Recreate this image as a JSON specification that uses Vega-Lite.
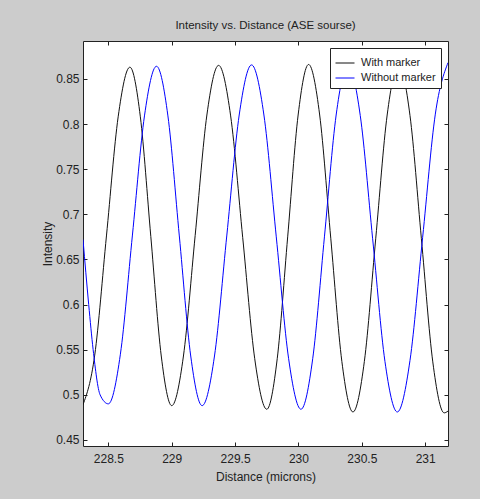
{
  "$schema": "https://vega.github.io/schema/vega-lite/v6.json",
  "autosize": {"type": "none"},
  "width": 365,
  "height": 405,
  "padding": {"left": 83, "top": 41, "right": 32, "bottom": 53},
  "background": "#cccccc",
  "title": {"text": "Intensity vs. Distance (ASE sourse)", "fontSize": 11.5, "fontWeight": "normal", "font": "Liberation Sans", "color": "#222222", "offset": 9},
  "config": {
    "view": {"fill": "white", "stroke": "#222222", "strokeWidth": 1},
    "axis": {"grid": false, "domain": false, "tickColor": "#222222", "tickSize": -4, "labelFont": "Liberation Sans", "labelFontSize": 12, "labelColor": "#222222", "titleFont": "Liberation Sans", "titleFontSize": 12, "titleFontWeight": "normal", "titleColor": "#222222"},
    "legend": {"orient": "top-right", "offset": 7, "fillColor": "white", "strokeColor": "#222222", "padding": 5, "symbolType": "stroke", "symbolSize": 361, "symbolStrokeWidth": 1, "labelFontSize": 11, "labelFont": "Liberation Sans", "labelColor": "#222222", "rowPadding": 0, "labelOffset": 6}
  },
  "data": {"values": [
    {"x": 228.30, "y": 0.489, "s": "With marker"},
    {"x": 228.3925, "y": 0.544, "s": "With marker"},
    {"x": 228.485, "y": 0.676, "s": "With marker"},
    {"x": 228.5775, "y": 0.808, "s": "With marker"},
    {"x": 228.67, "y": 0.863, "s": "With marker"},
    {"x": 228.7525, "y": 0.808, "s": "With marker"},
    {"x": 228.835, "y": 0.6755, "s": "With marker"},
    {"x": 228.9175, "y": 0.543, "s": "With marker"},
    {"x": 229.00, "y": 0.488, "s": "With marker"},
    {"x": 229.0925, "y": 0.543, "s": "With marker"},
    {"x": 229.185, "y": 0.6765, "s": "With marker"},
    {"x": 229.2775, "y": 0.810, "s": "With marker"},
    {"x": 229.37, "y": 0.865, "s": "With marker"},
    {"x": 229.465, "y": 0.809, "s": "With marker"},
    {"x": 229.56, "y": 0.6745, "s": "With marker"},
    {"x": 229.655, "y": 0.540, "s": "With marker"},
    {"x": 229.75, "y": 0.484, "s": "With marker"},
    {"x": 229.8325, "y": 0.540, "s": "With marker"},
    {"x": 229.915, "y": 0.675, "s": "With marker"},
    {"x": 229.9975, "y": 0.810, "s": "With marker"},
    {"x": 230.08, "y": 0.866, "s": "With marker"},
    {"x": 230.1675, "y": 0.810, "s": "With marker"},
    {"x": 230.255, "y": 0.6735, "s": "With marker"},
    {"x": 230.3425, "y": 0.537, "s": "With marker"},
    {"x": 230.43, "y": 0.481, "s": "With marker"},
    {"x": 230.52, "y": 0.537, "s": "With marker"},
    {"x": 230.61, "y": 0.6735, "s": "With marker"},
    {"x": 230.70, "y": 0.810, "s": "With marker"},
    {"x": 230.79, "y": 0.866, "s": "With marker"},
    {"x": 230.88, "y": 0.8095, "s": "With marker"},
    {"x": 230.97, "y": 0.673, "s": "With marker"},
    {"x": 231.06, "y": 0.5365, "s": "With marker"},
    {"x": 231.15, "y": 0.480, "s": "With marker"},
    {"x": 231.18, "y": 0.482, "s": "With marker"},
    {"x": 228.30, "y": 0.672, "s": "Without marker"},
    {"x": 228.345, "y": 0.600, "s": "Without marker"},
    {"x": 228.38, "y": 0.550, "s": "Without marker"},
    {"x": 228.435, "y": 0.500, "s": "Without marker"},
    {"x": 228.50, "y": 0.490, "s": "Without marker"},
    {"x": 228.595, "y": 0.545, "s": "Without marker"},
    {"x": 228.69, "y": 0.677, "s": "Without marker"},
    {"x": 228.785, "y": 0.809, "s": "Without marker"},
    {"x": 228.88, "y": 0.864, "s": "Without marker"},
    {"x": 228.97, "y": 0.809, "s": "Without marker"},
    {"x": 229.06, "y": 0.676, "s": "Without marker"},
    {"x": 229.15, "y": 0.543, "s": "Without marker"},
    {"x": 229.24, "y": 0.488, "s": "Without marker"},
    {"x": 229.3375, "y": 0.543, "s": "Without marker"},
    {"x": 229.435, "y": 0.677, "s": "Without marker"},
    {"x": 229.5325, "y": 0.810, "s": "Without marker"},
    {"x": 229.63, "y": 0.8655, "s": "Without marker"},
    {"x": 229.7275, "y": 0.810, "s": "Without marker"},
    {"x": 229.825, "y": 0.675, "s": "Without marker"},
    {"x": 229.9225, "y": 0.540, "s": "Without marker"},
    {"x": 230.02, "y": 0.484, "s": "Without marker"},
    {"x": 230.1125, "y": 0.540, "s": "Without marker"},
    {"x": 230.205, "y": 0.675, "s": "Without marker"},
    {"x": 230.2975, "y": 0.810, "s": "Without marker"},
    {"x": 230.39, "y": 0.866, "s": "Without marker"},
    {"x": 230.4875, "y": 0.8096, "s": "Without marker"},
    {"x": 230.585, "y": 0.6735, "s": "Without marker"},
    {"x": 230.6825, "y": 0.537, "s": "Without marker"},
    {"x": 230.78, "y": 0.481, "s": "Without marker"},
    {"x": 230.88, "y": 0.538, "s": "Without marker"},
    {"x": 230.98, "y": 0.6745, "s": "Without marker"},
    {"x": 231.08, "y": 0.811, "s": "Without marker"},
    {"x": 231.18, "y": 0.868, "s": "Without marker"}
  ]},
  "layer": [
    {
      "mark": {"type": "line", "interpolate": "monotone", "strokeWidth": 1, "clip": true},
      "encoding": {
        "x": {"field": "x", "type": "quantitative", "scale": {"domain": [228.3, 231.18], "nice": false, "zero": false},
              "axis": {"orient": "bottom", "values": [228.5, 229, 229.5, 230, 230.5, 231], "format": ".1~f", "labelPadding": 11, "title": "Distance (microns)", "titlePadding": 7}},
        "y": {"field": "y", "type": "quantitative", "scale": {"domain": [0.4433, 0.892], "nice": false, "zero": false},
              "axis": {"orient": "left", "values": [0.45, 0.5, 0.55, 0.6, 0.65, 0.7, 0.75, 0.8, 0.85], "format": ".2~f", "labelPadding": 8, "title": "Intensity", "titlePadding": 1}},
        "color": {"field": "s", "type": "nominal", "scale": {"domain": ["With marker", "Without marker"], "range": ["#111111", "#0000ff"]}, "legend": {"title": null}}
      }
    },
    {
      "mark": {"type": "point", "opacity": 0},
      "encoding": {
        "x": {"field": "x", "type": "quantitative", "axis": {"orient": "top", "values": [228.5, 229, 229.5, 230, 230.5, 231], "labels": false, "title": null}},
        "y": {"field": "y", "type": "quantitative", "axis": {"orient": "right", "values": [0.45, 0.5, 0.55, 0.6, 0.65, 0.7, 0.75, 0.8, 0.85], "labels": false, "title": null}}
      }
    }
  ],
  "resolve": {"axis": {"x": "independent", "y": "independent"}}
}
